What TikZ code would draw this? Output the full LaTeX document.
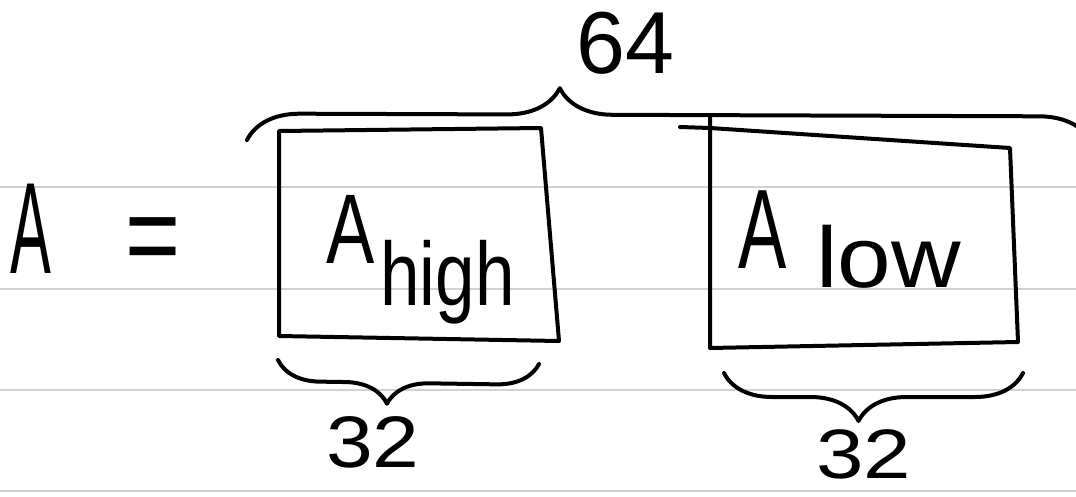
\documentclass[tikz,border=0pt]{standalone}
\usepackage{fontspec}
\newfontfamily\hand{Liberation Sans}
\usetikzlibrary{decorations.pathreplacing}
\begin{document}
\begin{tikzpicture}[x=1pt,y=-1pt,
  ink/.style={line width=4pt, line cap=round, line join=round, draw=black},
  rule/.style={line width=2.6pt, draw=black!18},
  word/.style={anchor=base west, inner sep=0pt, text=black},
  topbrace/.style={ink, decorate, decoration={brace, amplitude=#1}},
  lowbrace/.style={ink, decorate, decoration={brace, mirror, amplitude=#1}}]

  % page
  \clip (0,0) rectangle (1076,496);
  \fill[white] (0,0) rectangle (1076,496);

  % ruled lines of the notebook page
  \foreach \y in {187,289,390,491}
    \draw[rule] (-5,\y) -- (1085,\y);

  % left-hand side
  \node[word] (lhs) at (10,273) {\hand\fontsize{130}{130}\selectfont\scalebox{0.47}[1]{A}};
  \node[word] (eq) at (125,275) {\hand\fontsize{118}{118}\selectfont\scalebox{0.8}[1]{=}};

  % the two 32-bit halves, drawn freehand
  \coordinate (hiNW) at (279,131);
  \coordinate (hiNE) at (541,128);
  \coordinate (hiSE) at (559,341);
  \coordinate (hiSW) at (279,336);
  \draw[ink] (hiNW) -- (hiNE) -- (hiSE) -- (hiSW) -- cycle;

  \coordinate (loNW) at (710,128);
  \coordinate (loNE) at (1010,148);
  \coordinate (loSE) at (1018,342);
  \coordinate (loSW) at (710,348);
  \draw[ink] (loNW) -- (loNE) -- (loSE) -- (loSW) -- cycle;
  \draw[ink] (680,127) -- (loNW) -- (710,118);

  \node[word] (hitext) at (326,263) {\hand\fontsize{99}{99}\selectfont\scalebox{0.73}[1]{A}\hspace{6pt}\raisebox{-42pt}{\fontsize{90}{90}\selectfont\scalebox{0.79}[1]{high}}};
  \node[word] (lotext) at (738,268) {\hand\fontsize{113}{113}\selectfont\scalebox{0.64}[1]{A}\hspace{30pt}\raisebox{-19pt}{\fontsize{86}{86}\selectfont\scalebox{1.12}[1]{low}}};

  % width annotations
  \coordinate (topL) at (247,140);
  \coordinate (topR) at (1092,143);
  \coordinate (hiL) at (278,360);
  \coordinate (hiR) at (539,364);
  \coordinate (loL) at (724,373);
  \coordinate (loR) at (1023,373);

  \draw[topbrace=53pt, decoration={aspect=0.37}] (topL) -- (topR);
  \draw[lowbrace=42pt, decoration={aspect=0.42}] (hiL) -- (hiR);
  \draw[lowbrace=48pt, decoration={aspect=0.45}] (loL) -- (loR);

  \node[word] (w64) at (576,73) {\hand\fontsize{88}{88}\selectfont 64};
  \node[word] (w32a) at (326,467) {\hand\fontsize{73}{73}\selectfont\scalebox{1.15}[1]{32}};
  \node[word] (w32b) at (816,478) {\hand\fontsize{70}{70}\selectfont\scalebox{1.22}[1]{32}};
\end{tikzpicture}
\end{document}
